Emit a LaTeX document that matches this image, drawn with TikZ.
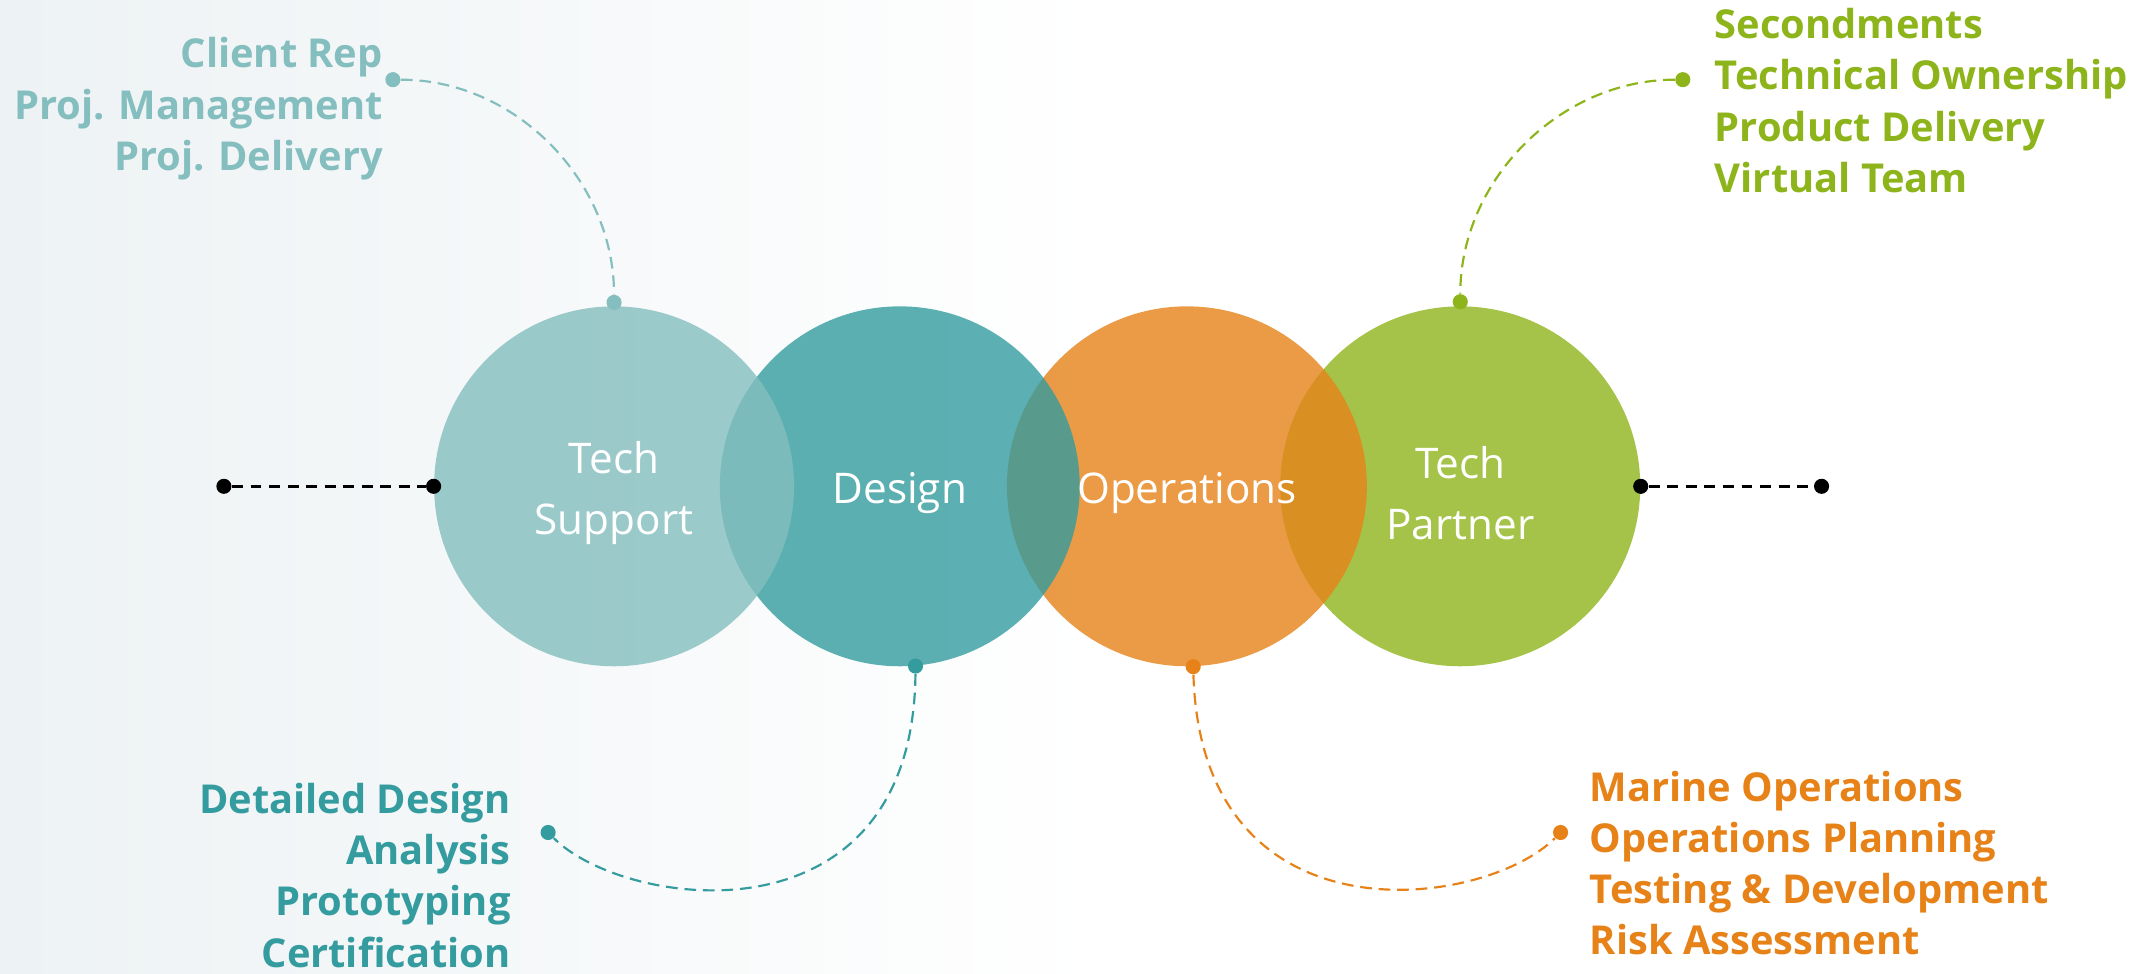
\documentclass[tikz,border=0pt]{standalone}
\usepackage{fontspec}
\setmainfont{Open Sans}
\usetikzlibrary{positioning,calc}
\definecolor{tsupport}{HTML}{84BEBF}
\definecolor{tdesign}{HTML}{349C9F}
\definecolor{toper}{HTML}{E68218}
\definecolor{tpartner}{HTML}{8DB41A}
\definecolor{mist}{HTML}{EDF2F4}
\newlength\ringd
\newlength\pind
\setlength{\ringd}{52.4mm}
\setlength{\pind}{2.2mm}
\tikzset{
  ring/.style={circle, fill=#1, fill opacity=0.8,
    minimum size=\ringd, inner sep=0pt},
  ringname/.style={text=white, inner sep=0pt, align=center,
    font=\fontsize{17.5}{25}\selectfont},
  tasklist/.style={text=#1, inner sep=0pt,
    font=\fontsize{16.5}{21.2}\selectfont\bfseries},
  pin/.style={circle, fill=#1, inner sep=0pt, minimum size=\pind},
  lead/.style={draw=#1, line width=0.9pt, dash pattern=on 1.7mm off 1mm},
  axis/.style={draw=black, line width=1.1pt, dash pattern=on 1.6mm off 1.1mm}
}

\begin{document}
\begin{tikzpicture}[x=0.2mm,y=-0.2mm]
    \fill[left color=mist, right color=white] (0,0) rectangle (800,708.3);
    \useasboundingbox (0,0) rectangle (1568,708.3);
    % rings, back to front
    \node[ring=tpartner] (techpartner) at (1063,354) {};
    \node[ring=toper] (operations) at (864,354) {};
    \node[ring=tdesign] (design) at (655,354) {};
    \node[ring=tsupport] (techsupport) at (447,354) {};
    \node[ringname] (partnername) at ([yshift=-1mm]techpartner.center) {Tech\\Partner};
    \node[ringname] (opername) at ([yshift=-1mm]operations.center) {Operations};
    \node[ringname] (designname) at ([yshift=-1mm]design.center) {Design};
    \node[ringname] (supportname) at ([yshift=-1mm]techsupport.center) {Tech\\Support};
    % lists
    \node[tasklist=tsupport, align=right, anchor=base east] (supportlist) at (279,124)
      {Client Rep\\Proj. Management\\Proj. Delivery};
    \node[tasklist=tpartner, align=left, anchor=base west] (partnerlist) at (1248,140)
      {Secondments\\Technical Ownership\\Product Delivery\\Virtual Team};
    \node[tasklist=tdesign, align=right, anchor=base east] (designlist) at (372,704)
      {Detailed Design\\Analysis\\Prototyping\\Certification};
    \node[tasklist=toper, align=left, anchor=base west] (operlist) at (1157,695)
      {Marine Operations\\Operations Planning\\Testing \& Development\\Risk Assessment};
    % pins
    \node[pin=tsupport] (supportend) at (286,58) {};
    \node[pin=tsupport] (supporttop) at ([yshift=0.5mm]techsupport.north) {};
    \node[pin=tpartner] (partnerend) at (1225,58) {};
    \node[pin=tpartner] (partnertop) at ([yshift=0.6mm]techpartner.north) {};
    \node[pin=tdesign] (designfoot) at (design.-85) {};
    \node[pin=tdesign] (designend) at (399,606) {};
    \node[pin=toper] (operfoot) at (operations.-88) {};
    \node[pin=toper] (operend) at (1136,606) {};
    \node[pin=black] (leftend) at (163,354) {};
    \node[pin=black] (leftring) at (techsupport.west) {};
    \node[pin=black] (rightring) at (techpartner.east) {};
    \node[pin=black] (rightend) at (1326,354) {};
    % leads
    \draw[lead=tsupport] (supportend) .. controls +(89,0) and +(0,-89) .. (supporttop);
    \draw[lead=tpartner] (partnerend) .. controls +(-89,0) and +(0,-89) .. (partnertop);
    \draw[lead=tdesign] (designfoot) .. controls +(-2,206) and +(56,56) .. (designend);
    \draw[lead=toper] (operfoot) .. controls +(6,204) and +(-56,56) .. (operend);
    \draw[axis] (leftend) -- (leftring);
    \draw[axis] (rightring) -- (rightend);
\end{tikzpicture}
\end{document}
